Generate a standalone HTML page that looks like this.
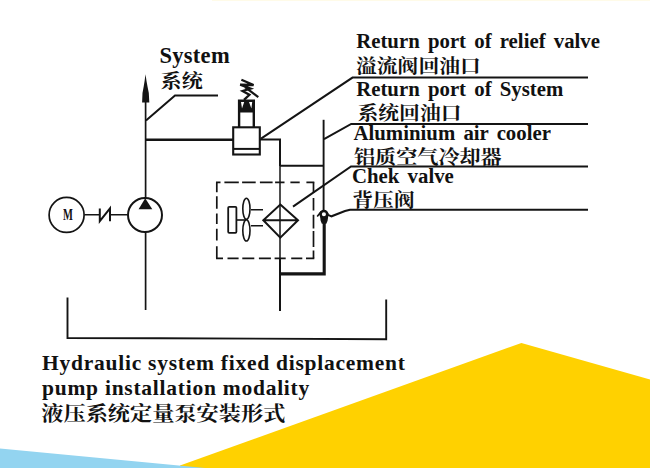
<!DOCTYPE html>
<html lang="en">
<head>
<meta charset="utf-8">
<title>Hydraulic system fixed displacement pump installation modality</title>
<style>
html,body{margin:0;padding:0;background:#fff;}
body{width:650px;height:468px;overflow:hidden;position:relative;}
#stage{position:absolute;left:0;top:0;width:650px;height:468px;overflow:hidden;background:#fff;}
svg{position:absolute;left:0;top:0;}
.t{position:absolute;white-space:nowrap;color:#111;line-height:1;transform-origin:0 0;}
.en{font-family:"Liberation Serif",serif;font-weight:bold;}
.r{font-size:20.8px;word-spacing:3px;transform:scaleY(0.97);}
.b{font-size:21.5px;letter-spacing:0.75px;}
.zh{font-family:"Liberation Serif","Noto Serif CJK SC",serif;font-weight:700;transform:scaleY(0.92);}
</style>
</head>
<body>
<div id="stage">
<svg width="650" height="468" viewBox="0 0 650 468">
  <!-- background shapes -->
  <rect x="212" y="0" width="438" height="1" fill="#fffbe8"/>
  <polygon points="180,465.5 521.4,343 650,379.5 650,468 180,468" fill="#ffd100"/>
  <polygon points="0,448.5 205,468 0,468" fill="#93d4f0"/>
  <g fill="none" stroke="#141414" stroke-width="1.8" stroke-linecap="butt" stroke-linejoin="miter">
    <!-- pump pressure line + arrow -->
    <path d="M145.6 198 V100" stroke-width="1.7"/>
    <path d="M145.6 232 V310" stroke-width="1.7"/>
    <path d="M145.5 74.2 L146.5 81 L147.5 86.5 L148.8 93 L149.3 102.6 H142.1 L142.5 93 L143.7 86.5 L144.6 81 Z" fill="#141414" stroke="none"/>
    <!-- system leader -->
    <path d="M146 120.4 L175 95.4 H218" stroke-width="2"/>
    <!-- main pressure horizontal -->
    <path d="M145.4 139.8 H233" stroke-width="2.6"/>
    <!-- relief valve -->
    <rect x="233.2" y="127.3" width="26.6" height="27.2" stroke-width="2.1"/>
    <path d="M234 148.9 H259.5" stroke-width="2"/>
    <path d="M239.1 127 V100.6 H253.8 V127" stroke-width="2.4"/>
    <path d="M240 101 H253 V112.5 H240 Z" fill="#141414" stroke="none"/>
    <path d="M241 102 L244.2 102 L242 108.5 Z M249 102 L252.2 102 L251.4 108.5 Z" fill="#fff" stroke="none"/>
    <path d="M241.4 79.8 L253.6 85 L240.2 84.6 L250.6 88.6 L242.6 91 L249.4 94.8 L244 99.8" stroke-width="2.3"/>
    <path d="M245 87.2 L258.3 97.2" stroke-width="2.2"/>
    <!-- relief outlet -->
    <path d="M260 139.6 H280 V166" stroke-width="2"/>
    <path d="M280 165 V259" stroke-width="1.5"/>
    <path d="M280 258 V311" stroke-width="2"/>
    <path d="M261 138.6 L352.5 77.6 H588" stroke-width="2"/>
    <!-- return of system -->
    <path d="M323.6 119.8 V211" stroke-width="1.9"/>
    <path d="M280 165.7 H323.5" stroke-width="1.9"/>
    <path d="M324 139.2 L351.2 123.9 H588" stroke-width="2"/>
    <!-- cooler dashed box -->
    <path d="M216 182.3 H220.5 M224.4 182.3 H238.8 M242.1 182.3 H255.7 M259.9 182.3 H272.6 M275.1 182.3 H284.5 M290.4 182.3 H299.7 M306.4 182.3 H314.3 M216 258.3 H223 M227.5 258.3 H238.6 M242.3 258.3 H254.3 M258.9 258.3 H270.9 M274.6 258.3 H285.7 M291.2 258.3 H302.3 M306 258.3 H314.3" stroke-width="1.7"/>
    <path d="M216.8 182.3 V192.3 M216.8 196.2 V208.7 M216.8 213.5 V224 M216.8 228.8 V240.4 M216.8 246.2 V258.3 M313.5 182.3 V193 M313.5 198 V210.4 M313.5 214.8 V228.4 M313.5 230.9 V247 M313.5 250.5 V258.3" stroke-width="1.7"/>
    <!-- fan motor -->
    <rect x="228.2" y="206.8" width="8.2" height="26" rx="1" stroke-width="1.8"/>
    <path d="M236.5 220 H246" stroke-width="1.6"/>
    <ellipse cx="246.4" cy="208.8" rx="3.6" ry="10.6" stroke-width="1.6"/>
    <ellipse cx="246.4" cy="230.4" rx="3.6" ry="10.6" stroke-width="1.6"/>
    <path d="M251 209.7 H263 M251 225.7 H263" stroke-width="1.5"/>
    <!-- cooler diamond -->
    <path d="M280.3 204.6 L298 220.3 L280.3 237.6 L263.3 220.3 Z M263.3 220.3 H298" stroke-width="2"/>
    <!-- cooler leader -->
    <path d="M293 206.6 L351 166.4 H588" stroke-width="2"/>
    <!-- check valve -->
    <path d="M324.2 218 V273.9 H280" stroke-width="3.1"/>
    <path d="M320.6 214 L327.8 214 L326.8 220.5 L325.8 223 L322.4 223 L321.4 220.5 Z M317.2 216.6 L321.2 211.4" fill="#141414" stroke="#141414" stroke-width="1.6"/>
    <circle cx="323.9" cy="214.2" r="3.3" stroke-width="2.5" fill="#fff"/>
    <path d="M328 214.8 L331.5 216.3 L345 211 L350 209.7 H588" stroke-width="2"/>
    <!-- motor -->
    <circle cx="66.6" cy="214.9" r="17.5" stroke-width="1.7"/>
    <path d="M84.5 214.8 H99.5 M110 214.8 H127.5" stroke-width="1.6"/>
    <path d="M99.8 208.4 V221.2 L110 208.4 V221.2" stroke-width="2"/>
    <!-- pump -->
    <circle cx="145" cy="215" r="17" stroke-width="2"/>
    <path d="M145.2 198.3 L152.3 209.3 H138.6 Z" fill="#141414" stroke="none"/>
    <!-- tank -->
    <path d="M67.5 297.5 V338 L160 338.2 L386.2 339.3 V299.5" stroke-width="1.9"/>
  </g>
</svg>

<div class="t en" style="left:159.4px;top:45.2px;font-size:22.5px;letter-spacing:0.3px;">System</div>
<div class="t zh" style="left:160.6px;top:72px;font-size:21.1px;">系统</div>

<div class="t en r" style="left:356.2px;top:32.4px;">Return port of relief valve</div>
<div class="t zh" style="left:356px;top:56.8px;font-size:20.8px;">溢流阀回油口</div>
<div class="t en r" style="left:356.2px;top:79.7px;">Return port of System</div>
<div class="t zh" style="left:357.5px;top:103.5px;font-size:20.8px;">系统回油口</div>
<div class="t en r" style="left:353.5px;top:124.2px;">Aluminium air cooler</div>
<div class="t zh" style="left:354px;top:147.7px;font-size:21.1px;">铝质空气冷却器</div>
<div class="t en r" style="left:352px;top:167.1px;">Chek valve</div>
<div class="t zh" style="left:352.3px;top:191px;font-size:20.8px;">背压阀</div>

<div class="t en" style="left:62.9px;top:206.2px;font-size:17.5px;transform:scaleX(0.6);">M</div>

<div class="t en b" style="left:42px;top:353px;">Hydraulic system fixed displacement</div>
<div class="t en b" style="left:42px;top:378.3px;">pump installation modality</div>
<div class="t zh" style="left:41.3px;top:403.5px;font-size:22.2px;transform:scaleY(0.93);">液压系统定量泵安装形式</div>
</div>
</body>
</html>
